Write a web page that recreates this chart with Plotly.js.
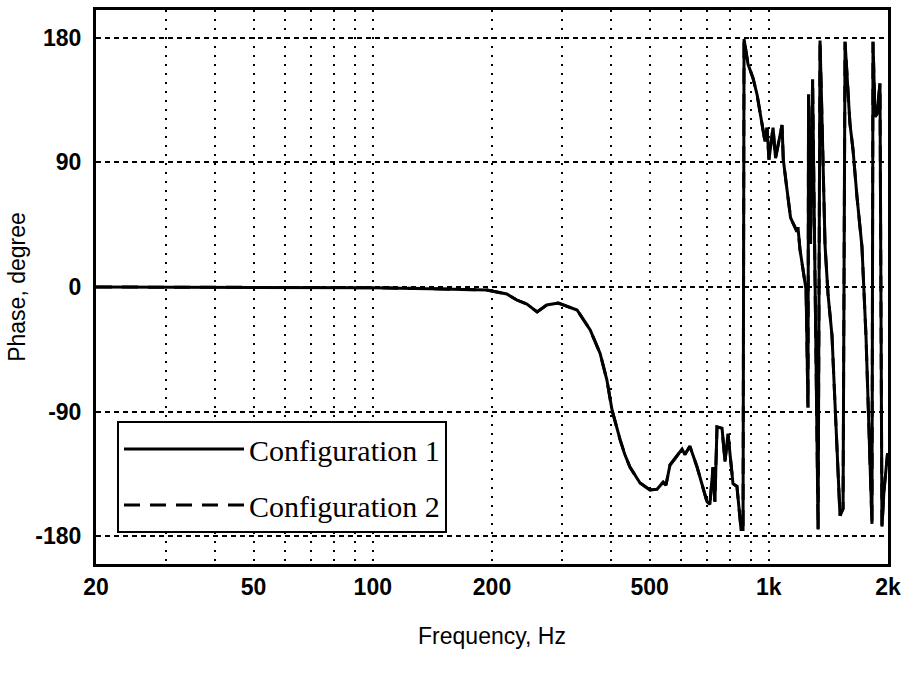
<!DOCTYPE html>
<html>
<head>
<meta charset="utf-8">
<script src="https://cdn.plot.ly/plotly-3.0.1.min.js"></script>
<style>html,body{margin:0;padding:0;background:#fff;}#chart{width:908px;height:673px;}</style>
</head>
<body>
<div id="chart"></div>
<script>
// Frequency (Hz)
const freq = [20, 30, 50, 80, 100, 150, 194, 218, 231, 245, 260, 275, 294, 328, 354, 375, 390, 402, 414, 421, 433, 446, 473, 501, 522, 541, 550, 563, 579, 604, 614, 632, 659, 678, 698, 710, 723, 731, 740, 762, 775, 789, 812, 831, 851, 861,
  866, 886, 912, 934, 950, 967, 978, 990, 1001, 1025, 1040, 1080, 1088, 1112, 1135, 1178, 1185, 1199, 1220, 1242, 1256, 1260, 1275, 1290, 1332, 1347, 1363, 1387, 1411, 1444, 1478, 1513, 1540, 1558, 1603, 1632, 1670, 1719, 1760, 1822, 1833, 1855, 1876, 1909, 1931, 1954, 1995];
// Phase (degree), Configuration 1
const phase1 = [0, 0, 0, -0.3, -0.5, -1.4, -2.2, -5, -9.4, -12.3, -18, -13, -11.6, -16.6, -31, -48, -67, -89, -103, -110, -121, -130, -141.5, -146.6, -146, -141, -143, -128.5, -124, -117, -121, -115, -130, -142, -155, -157, -130, -155, -101, -102, -126, -106, -142, -144, -175, -175,
  179, 161, 151, 139, 126, 115, 105, 115, 92, 115, 93, 117, 92, 70, 50, 40, 43, 27, 12, -2, -87, 139, 31, 150, -175, 178, 120, 30, -5, -35, -100, -165, -160, 177, 118, 99, 65, 29, -36, -171, 177, 123, 125, 147, -173, -147, -120];
// Configuration 2 lies on Configuration 1 in the picture
const phase2 = phase1.slice();

const xTickVals = [20, 30, 40, 50, 60, 70, 80, 90, 100, 200, 300, 400, 500, 600, 700, 800, 900, 1000, 2000];
const xTickText = ['20', '', '', '50', '', '', '', '', '100', '200', '', '', '500', '', '', '', '', '1k', '2k'];
const yTickVals = [-180, -90, 0, 90, 180];
const yTickText = ['-180', '-90', '0', '90', '180'];
const seriesNames = ['Configuration 1', 'Configuration 2'];

const traces = [
  {x: freq, y: phase1, name: seriesNames[0], mode: 'lines', type: 'scatter', legendgroup: 'a',
   line: {color: '#000', width: 3}},
  {x: freq, y: phase2, name: seriesNames[1], mode: 'lines', type: 'scatter', legendgroup: 'b',
   line: {color: '#000', width: 3, dash: '16px,10px'}}
];

const tickFont = {family: 'Liberation Sans, Arial, sans-serif', size: 23, color: '#000', weight: 'bold'};
const titleFont = {family: 'Liberation Sans, Arial, sans-serif', size: 23, color: '#000'};

const layout = {
  width: 908, height: 673,
  margin: {l: 96, r: 20, t: 10, b: 109},
  paper_bgcolor: '#fff', plot_bgcolor: '#fff',
  showlegend: true,
  legend: {
    x: 0.0265, y: 0.258, xanchor: 'left', yanchor: 'top',
    bgcolor: '#fff', bordercolor: '#000', borderwidth: 2,
    font: {family: 'Liberation Serif, Times New Roman, serif', size: 30, color: '#000'},
    itemwidth: 120, tracegroupgap: 14, traceorder: 'grouped'
  },
  xaxis: {
    type: 'log', range: [Math.log10(20), Math.log10(2000)],
    tickmode: 'array', tickvals: xTickVals, ticktext: xTickText,
    ticks: '', ticklabelstandoff: 0, tickfont: tickFont,
    showgrid: true, gridcolor: '#000', gridwidth: 2, griddash: '2px,7px',
    showline: true, mirror: true, linecolor: '#000', linewidth: 3, zeroline: false,
    title: {text: 'Frequency, Hz', font: titleFont, standoff: 30}
  },
  yaxis: {
    range: [-200, 200],
    tickmode: 'array', tickvals: yTickVals, ticktext: yTickText,
    ticks: '', ticklabelstandoff: 7, tickfont: tickFont,
    showgrid: true, gridcolor: '#000', gridwidth: 2, griddash: '5px,4px',
    showline: true, mirror: true, linecolor: '#000', linewidth: 3, zeroline: false,
    title: {text: 'Phase, degree', font: titleFont, standoff: 4}
  }
};

Plotly.newPlot('chart', traces, layout, {staticPlot: true, displayModeBar: false});
</script>
</body>
</html>
